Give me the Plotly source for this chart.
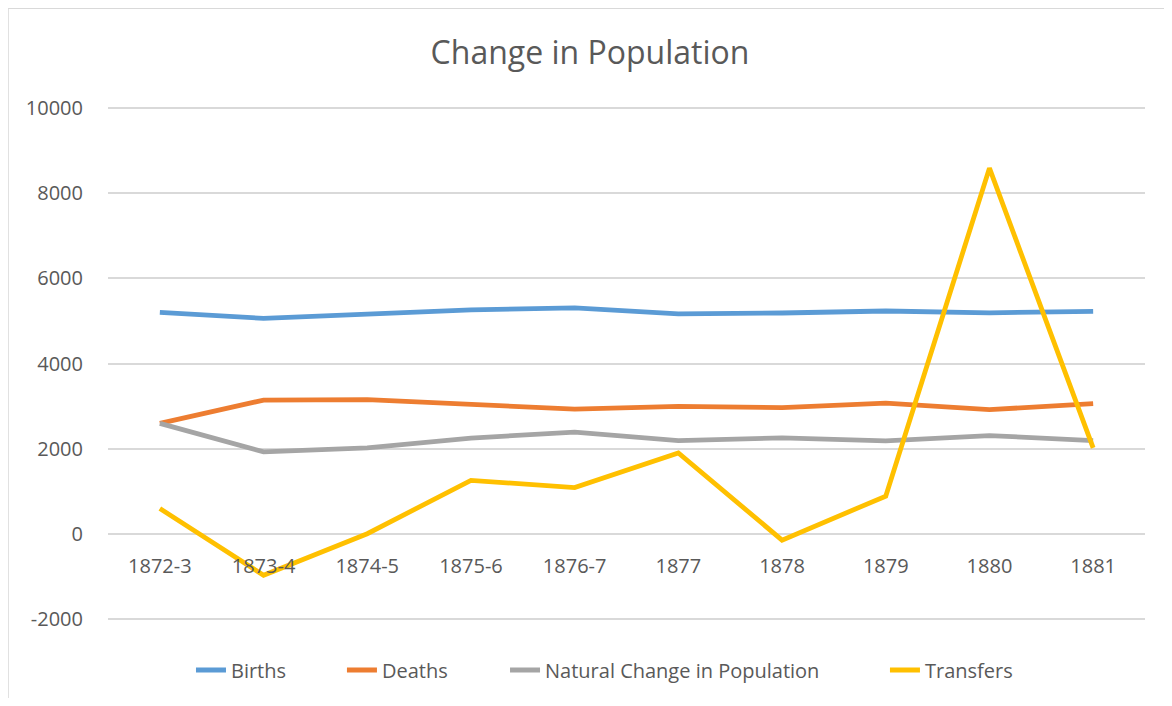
import plotly.graph_objects as go

categories = ["1872-3", "1873-4", "1874-5", "1875-6", "1876-7", "1877", "1878", "1879", "1880", "1881"]
births = [5200, 5060, 5160, 5260, 5305, 5165, 5186, 5233, 5190, 5225]
deaths = [2593, 3140, 3150, 3030, 2929, 2994, 2963, 3071, 2916, 3057]
natural = [2593, 1925, 2019, 2247, 2388, 2189, 2251, 2181, 2306, 2189]
transfers = [592, -976, 0, 1255, 1086, 1900, -150, 884, 8590, 2017]

y_tick_values = [-2000, 0, 2000, 4000, 6000, 8000, 10000]
y_tick_labels = ["-2000", "0", "2000", "4000", "6000", "8000", "10000"]

series = [
    ("Births", births, "#5B9BD5", "legend", 0.1572),
    ("Deaths", deaths, "#ED7D31", "legend2", 0.2869),
    ("Natural Change in Population", natural, "#A5A5A5", "legend3", 0.4270),
    ("Transfers", transfers, "#FFC000", "legend4", 0.7534),
]

FONT = "Open Sans"
TXT = "#595959"
Y0, Y1 = -2050, 10050

fig = go.Figure()
for name, vals, col, leg, _ in series:
    fig.add_trace(go.Scatter(
        x=categories, y=vals, name=name, mode="lines",
        line=dict(color=col, width=4.8), legend=leg,
    ))

legend_common = dict(orientation="h", xref="container", yref="container",
                     xanchor="left", y=0.0406, yanchor="middle",
                     font=dict(size=20, color=TXT), bgcolor="rgba(0,0,0,0)")
layout_legends = {}
for name, vals, col, leg, lx in series:
    layout_legends[leg] = dict(legend_common, x=lx)

fig.update_layout(
    width=1164, height=690,
    margin=dict(l=100, r=27, t=98, b=77, autoexpand=False),
    paper_bgcolor="white", plot_bgcolor="white",
    font=dict(family=FONT, color=TXT, size=20),
    title=dict(text="Change in Population", x=0.5, xanchor="center",
               y=0.9348, yanchor="middle", xref="container", yref="container",
               font=dict(family=FONT, size=32, color=TXT)),
    showlegend=True,
    xaxis=dict(type="category", range=[-0.5, 9.5], anchor="free",
               position=(0 - Y0) / (Y1 - Y0),
               showgrid=False, showline=False, zeroline=False,
               ticks="", ticklabelstandoff=18,
               tickfont=dict(size=20, color=TXT)),
    yaxis=dict(range=[Y0, Y1], tickvals=y_tick_values, ticktext=y_tick_labels,
               showgrid=True, gridcolor="#D9D9D9", gridwidth=1.5, zeroline=False,
               showline=False, ticks="", ticklabelstandoff=24,
               tickfont=dict(size=20, color=TXT)),
    shapes=[
        dict(type="line", xref="paper", yref="paper", x0=-0.0964, x1=1.04,
             y0=1.19, y1=1.19, line=dict(color="#D9D9D9", width=1.5)),
        dict(type="line", xref="paper", yref="paper", x0=-0.0964, x1=-0.0964,
             y0=1.19, y1=-0.3, line=dict(color="#D9D9D9", width=1.5)),
    ],
    **layout_legends,
)

fig.write_html("out.html")
